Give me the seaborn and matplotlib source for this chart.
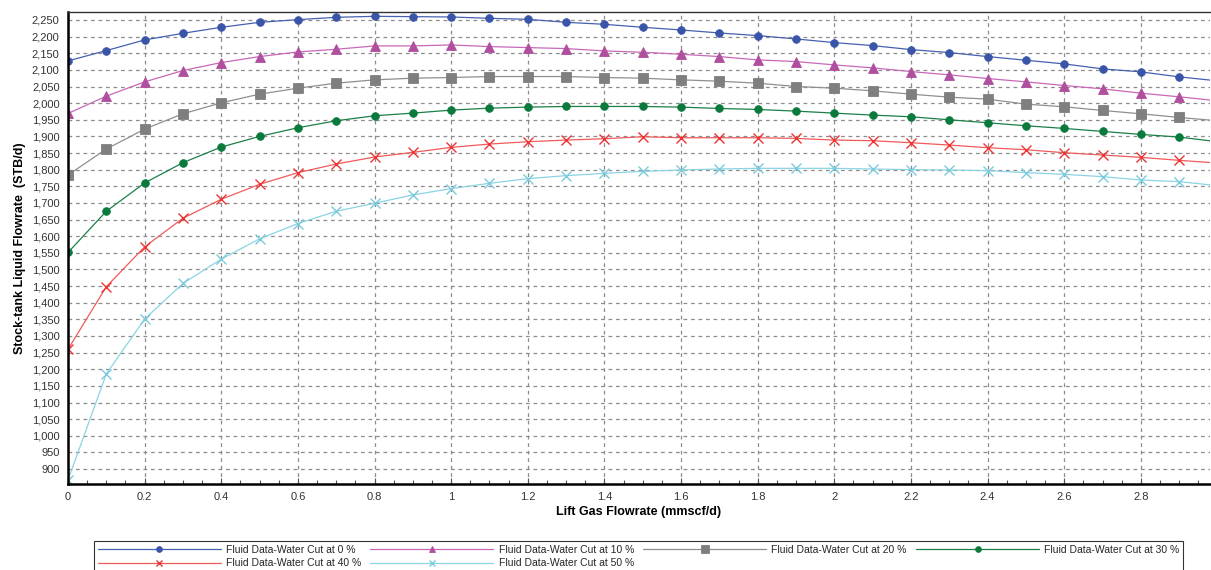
import numpy as np
import pandas as pd
import matplotlib
matplotlib.use("Agg")
import matplotlib.pyplot as plt
import seaborn as sns
from matplotlib.ticker import FuncFormatter, MultipleLocator

# ---------------- data ----------------
lift_gas = [0.0, 0.1, 0.2, 0.3, 0.4, 0.5, 0.6, 0.7, 0.8, 0.9, 1.0, 1.1, 1.2, 1.3, 1.4,
            1.5, 1.6, 1.7, 1.8, 1.9, 2.0, 2.1, 2.2, 2.3, 2.4, 2.5, 2.6, 2.7, 2.8, 2.9, 3.0]

wc_0 = [2127, 2158, 2190, 2210, 2228, 2243, 2251, 2258, 2261, 2260, 2259, 2255, 2252, 2243, 2237,
        2228, 2220, 2211, 2203, 2193, 2182, 2173, 2161, 2152, 2140, 2129, 2118, 2103, 2094, 2079, 2067]
wc_10 = [1969, 2021, 2064, 2098, 2122, 2140, 2154, 2162, 2172, 2172, 2175, 2170, 2167, 2164, 2157,
         2153, 2147, 2140, 2130, 2125, 2115, 2106, 2095, 2085, 2074, 2064, 2053, 2043, 2030, 2019, 2007]
wc_20 = [1784, 1862, 1922, 1968, 2001, 2027, 2045, 2060, 2070, 2075, 2077, 2080, 2080, 2080, 2077,
         2075, 2070, 2066, 2060, 2050, 2045, 2037, 2027, 2018, 2012, 1997, 1989, 1978, 1968, 1957, 1947]
wc_30 = [1551, 1675, 1760, 1821, 1868, 1900, 1926, 1947, 1962, 1970, 1979, 1985, 1988, 1990, 1990,
         1990, 1988, 1984, 1981, 1976, 1970, 1964, 1959, 1950, 1941, 1932, 1924, 1915, 1906, 1898, 1884]
wc_40 = [1260, 1448, 1568, 1654, 1711, 1756, 1791, 1817, 1838, 1852, 1867, 1877, 1884, 1889, 1893,
         1899, 1896, 1896, 1896, 1894, 1889, 1887, 1881, 1874, 1866, 1860, 1851, 1844, 1837, 1828, 1820]
wc_50 = [867, 1186, 1351, 1458, 1531, 1592, 1638, 1675, 1699, 1724, 1743, 1759, 1773, 1782, 1789,
         1795, 1799, 1802, 1804, 1804, 1804, 1802, 1800, 1799, 1797, 1791, 1786, 1779, 1769, 1764, 1752]

series_labels = ["Fluid Data-Water Cut at 0 %", "Fluid Data-Water Cut at 10 %",
                 "Fluid Data-Water Cut at 20 %", "Fluid Data-Water Cut at 30 %",
                 "Fluid Data-Water Cut at 40 %", "Fluid Data-Water Cut at 50 %"]
series_values = [wc_0, wc_10, wc_20, wc_30, wc_40, wc_50]

x_label = "Lift Gas Flowrate (mmscf/d)"
y_label = "Stock-tank Liquid Flowrate  (STB/d)"

# ---------------- style ----------------
line_colors = ["#4560b0", "#c868b8", "#8f8f8f", "#1a8048", "#f25a5a", "#8ad4e4"]
marker_colors = ["#3a55a8", "#b04f9e", "#7f7f7f", "#0a7a3c", "#ee3333", "#7ccbdd"]
markers = ["o", "^", "s", "o", "x", "x"]
marker_sizes = [5.5, 6.5, 7.0, 5.5, 6.5, 6.5]

sns.set_theme(style="white")
plt.rcParams["font.family"] = ["Liberation Sans", "DejaVu Sans"]

fig = plt.figure(figsize=(12.11, 5.70), dpi=100)
ax = fig.add_axes([68 / 1211, 1 - 484 / 570, (1211 - 68) / 1211 - 0.001, (484 - 12) / 570])

handles = []
for lab, vals, lc, mc, mk, ms in zip(series_labels, series_values, line_colors,
                                     marker_colors, markers, marker_sizes):
    df = pd.DataFrame({"x": lift_gas, "y": vals})
    sns.lineplot(data=df, x="x", y="y", ax=ax, color=lc, linewidth=0.9,
                 marker=mk, markersize=ms, markerfacecolor=mc,
                 markeredgecolor=mc, markeredgewidth=1.0 if mk == "x" else 0.6,
                 label=lab, legend=False, sort=False)
    handles.append(ax.lines[-1])

ax.set_xlim(0, 2.98)
ax.set_ylim(855, 2274)

ax.xaxis.set_major_locator(MultipleLocator(0.2))
ax.xaxis.set_minor_locator(MultipleLocator(0.05))
ax.yaxis.set_major_locator(MultipleLocator(50))
ax.xaxis.set_major_formatter(FuncFormatter(lambda v, p: f"{v:g}"))
ax.yaxis.set_major_formatter(FuncFormatter(lambda v, p: f"{v:,.0f}"))

ax.grid(True, which="major", color="#8c8c8c", linestyle=(0, (3, 3)), linewidth=0.9)
ax.set_axisbelow(True)

ax.tick_params(axis="both", which="major", labelsize=8, colors="#333333", length=0, pad=6)
ax.tick_params(axis="x", which="minor", direction="in", length=3, width=0.8,
               color="#555555", bottom=True)
ax.tick_params(axis="x", which="major", direction="in", length=4, width=0.8,
               color="#555555", bottom=True)

for s in ["left", "bottom"]:
    ax.spines[s].set_color("black")
    ax.spines[s].set_linewidth(1.8)
ax.spines["top"].set_color("#333333")
ax.spines["top"].set_linewidth(1.0)
ax.spines["right"].set_visible(False)

ax.set_xlabel(x_label, fontsize=9, fontweight="bold", color="black", labelpad=3)
ax.set_ylabel(y_label, fontsize=9, fontweight="bold", color="black", labelpad=4)

order = [0, 4, 1, 5, 2, 3]
leg = fig.legend([handles[i] for i in order], [series_labels[i] for i in order],
                 loc="upper left", bbox_to_anchor=(94 / 1211, 1 - 541 / 570),
                 ncol=4, fontsize=7.5, handlelength=11.8, handletextpad=0.5,
                 columnspacing=0.9, frameon=True, fancybox=False, markerscale=0.75,
                 borderpad=0.35, labelspacing=0.35, borderaxespad=0)
leg.get_frame().set_edgecolor("black")
leg.get_frame().set_linewidth(0.8)

fig.savefig("out.png", dpi=100)
